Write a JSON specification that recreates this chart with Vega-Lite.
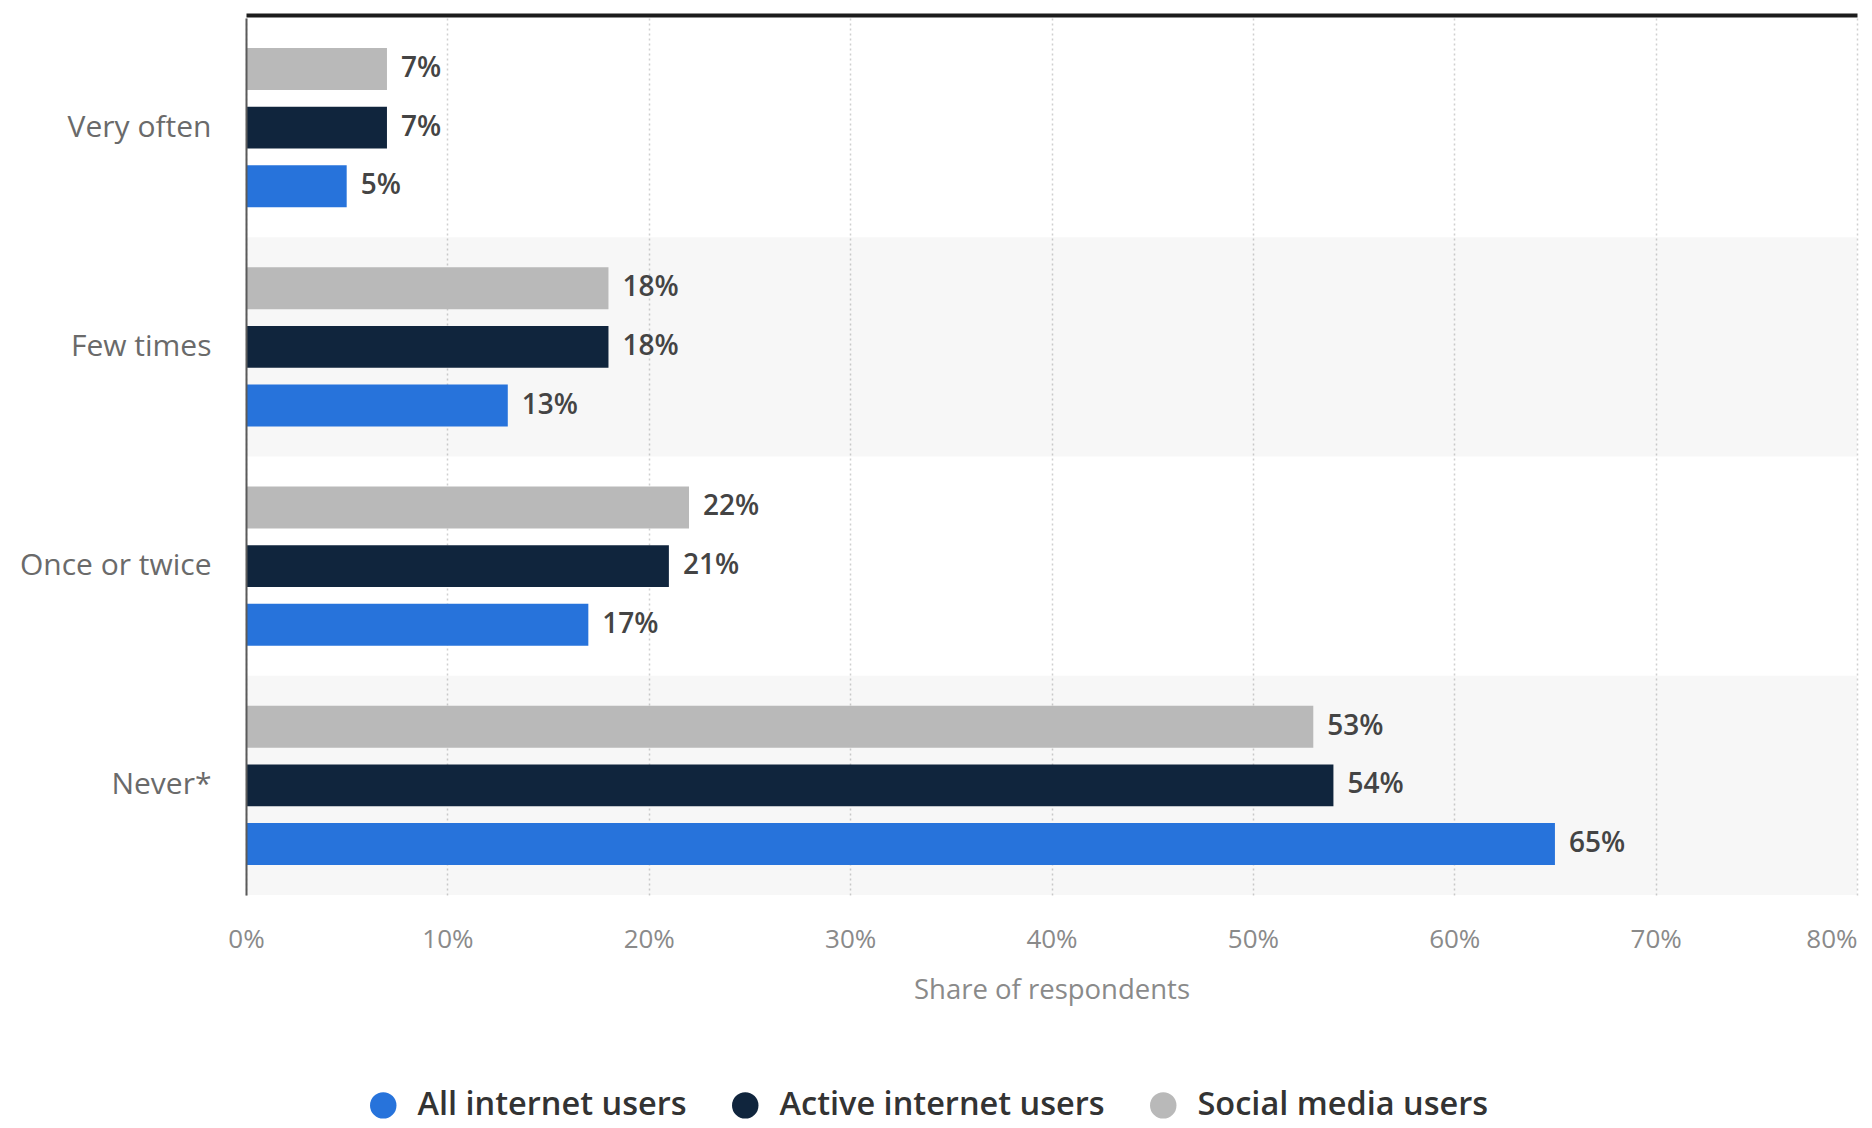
{
  "$schema": "https://vega.github.io/schema/vega-lite/v6.json",
  "autosize": {"type": "none"},
  "width": 1611,
  "height": 877,
  "padding": {"left": 246, "top": 18, "right": 15, "bottom": 233},
  "background": "#ffffff",
  "config": {
    "font": "Open Sans",
    "view": {"stroke": null}
  },
  "data": {
    "values": [
      {"category": "Very often", "series": "Social media users", "value": 0.07},
      {"category": "Very often", "series": "Active internet users", "value": 0.07},
      {"category": "Very often", "series": "All internet users", "value": 0.05},
      {"category": "Few times", "series": "Social media users", "value": 0.18},
      {"category": "Few times", "series": "Active internet users", "value": 0.18},
      {"category": "Few times", "series": "All internet users", "value": 0.13},
      {"category": "Once or twice", "series": "Social media users", "value": 0.22},
      {"category": "Once or twice", "series": "Active internet users", "value": 0.21},
      {"category": "Once or twice", "series": "All internet users", "value": 0.17},
      {"category": "Never*", "series": "Social media users", "value": 0.53},
      {"category": "Never*", "series": "Active internet users", "value": 0.54},
      {"category": "Never*", "series": "All internet users", "value": 0.65}
    ]
  },
  "layer": [
    {
      "transform": [
        {"filter": "datum.series == 'All internet users' && (datum.category == 'Few times' || datum.category == 'Never*')"}
      ],
      "mark": {"type": "rect", "fill": "#000000", "opacity": 0.03},
      "encoding": {
        "y": {
          "field": "category", "type": "nominal",
          "sort": ["Very often", "Few times", "Once or twice", "Never*"],
          "scale": {"paddingInner": 0, "paddingOuter": 0}
        },
        "x": {"datum": 0, "type": "quantitative", "axis": null},
        "x2": {"datum": 0.8}
      }
    },
    {
      "mark": {"type": "bar"},
      "encoding": {
        "y": {
          "field": "category", "type": "nominal",
          "sort": ["Very often", "Few times", "Once or twice", "Never*"],
          "scale": {"paddingInner": 0, "paddingOuter": 0},
          "axis": {
            "title": null,
            "ticks": false,
            "domain": true,
            "domainColor": "#5a5a5a",
            "domainWidth": 2,
            "labelPadding": 35,
            "labelFontSize": 30,
            "labelLimit": 0,
            "labelColor": "#6a6a6a",
            "labelFontWeight": "normal",
            "grid": false,
            "zindex": 1
          }
        },
        "yOffset": {
          "field": "series", "type": "nominal",
          "sort": ["Social media users", "Active internet users", "All internet users"],
          "scale": {"paddingInner": 0.285, "paddingOuter": 0.51}
        },
        "x": {
          "field": "value", "type": "quantitative",
          "scale": {"domain": [0, 0.8], "nice": false},
          "axis": {
            "orient": "bottom",
            "values": [0, 0.1, 0.2, 0.3, 0.4, 0.5, 0.6, 0.7, 0.8],
            "format": ".0%",
            "title": "Share of respondents",
            "titleFontSize": 27.5,
            "titleFontWeight": "normal",
            "titleColor": "#8a8a8a",
            "titlePadding": 24,
            "labelFontSize": 26,
            "labelColor": "#8a8a8a",
            "labelPadding": 31,
            "labelAlign": {"condition": {"test": "datum.value >= 0.8", "value": "right"}, "value": "center"},
            "ticks": false,
            "domain": false,
            "grid": true,
            "gridColor": "#cfcfcf",
            "gridWidth": 1.5,
            "gridDash": [2, 3]
          }
        },
        "color": {
          "field": "series", "type": "nominal",
          "scale": {
            "domain": ["All internet users", "Active internet users", "Social media users"],
            "range": ["#2773db", "#10253d", "#b9b9b9"]
          },
          "legend": {
            "orient": "none",
            "direction": "horizontal",
            "legendX": 121,
            "legendY": 1071,
            "title": null,
            "symbolType": "circle",
            "symbolSize": 700,
            "symbolStrokeWidth": 0,
            "labelFontSize": 32.5,
            "labelFontWeight": 600,
            "labelColor": "#333333",
            "labelLimit": 0,
            "labelOffset": 18,
            "columnPadding": 42
          }
        }
      }
    },
    {
      "mark": {"type": "text", "align": "left", "baseline": "middle", "dx": 14, "fontSize": 28, "fontWeight": 600, "color": "#444444"},
      "encoding": {
        "y": {
          "field": "category", "type": "nominal",
          "sort": ["Very often", "Few times", "Once or twice", "Never*"]
        },
        "yOffset": {
          "field": "series", "type": "nominal",
          "sort": ["Social media users", "Active internet users", "All internet users"]
        },
        "x": {
          "field": "value", "type": "quantitative",
          "axis": {
            "orient": "top",
            "labels": false,
            "ticks": false,
            "grid": false,
            "domain": true,
            "domainColor": "#1c1c1c",
            "domainWidth": 4,
            "offset": 3,
            "title": null
          }
        },
        "text": {"field": "value", "type": "quantitative", "format": ".0%"}
      }
    }
  ],
  "resolve": {"axis": {"x": "independent"}}
}
